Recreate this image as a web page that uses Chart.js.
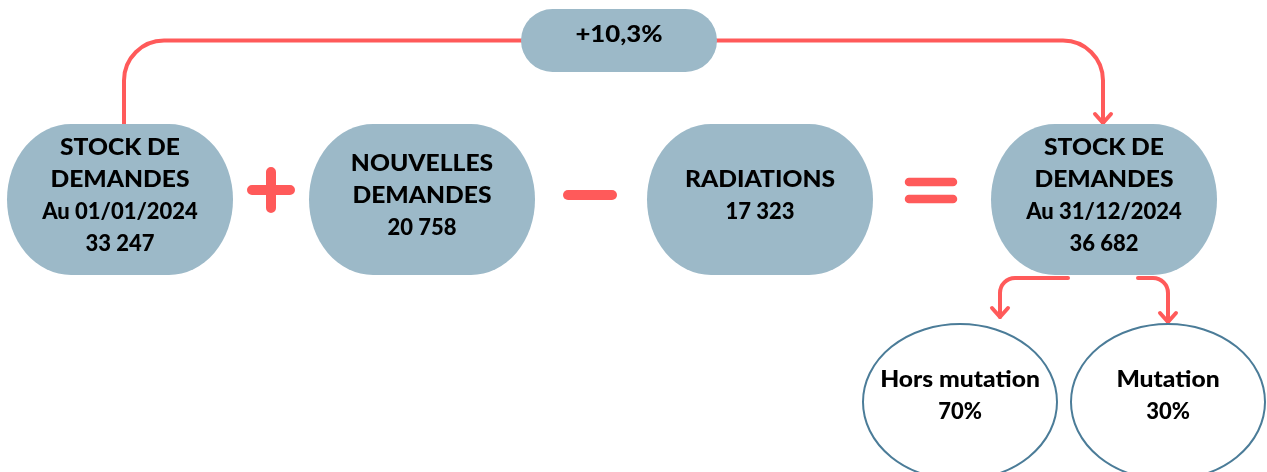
<!DOCTYPE html>
<html><head><meta charset="utf-8">
<script src="https://cdn.jsdelivr.net/npm/chart.js@4.4.1/dist/chart.umd.min.js"></script>
<style>html,body{margin:0;padding:0;background:#fff;}canvas{display:block;}</style>
</head><body>
<canvas id="c" width="1267" height="472"></canvas>
<script>
// ---- data ----
const nodeTitles = [
  ['STOCK DE', 'DEMANDES', 'Au 01/01/2024'],
  ['NOUVELLES', 'DEMANDES'],
  ['RADIATIONS'],
  ['STOCK DE', 'DEMANDES', 'Au 31/12/2024']
];
const nodeValues = [33247, 20758, 17323, 36682];
const operators = ['+', '-', '='];
const changeLabel = '+10,3%';
const splitLabels = ['Hors mutation', 'Mutation'];
const splitShares = [70, 30];

// ---- layout (chart coordinates) ----
const nodePos = [[120, 199.5], [422, 199.5], [760, 199.5], [1104, 199.5]];
const opPos = [[271, 190], [590, 195], [931, 190.5]];
const pillPos = [619, 40.5];
const splitPos = [[960, 402], [1168, 402]];

const RED = '#FF5A5A', BOX = '#9CB9C8', RING = '#4B7C98';
const FONT = 'Lato, "Open Sans", sans-serif';
const STRETCH = 1.12;
const fmt = v => String(v).replace(/\B(?=(\d{3})+(?!\d))/g, ' ');

function stadium(ctx, cx, cy, w, h, rx, ry) {
  const l = cx - w / 2, r = cx + w / 2, t = cy - h / 2, b = cy + h / 2;
  ctx.beginPath();
  ctx.moveTo(l + rx, t);
  ctx.lineTo(r - rx, t);
  ctx.ellipse(r - rx, t + ry, rx, ry, 0, -Math.PI / 2, 0);
  ctx.lineTo(r, b - ry);
  ctx.ellipse(r - rx, b - ry, rx, ry, 0, 0, Math.PI / 2);
  ctx.lineTo(l + rx, b);
  ctx.ellipse(l + rx, b - ry, rx, ry, 0, Math.PI / 2, Math.PI);
  ctx.lineTo(l, t + ry);
  ctx.ellipse(l + rx, t + ry, rx, ry, 0, Math.PI, Math.PI * 1.5);
  ctx.closePath();
}
function arrowHead(ctx, x, y) {
  ctx.beginPath();
  ctx.moveTo(x - 8, y - 9);
  ctx.lineTo(x, y);
  ctx.lineTo(x + 8, y - 9);
  ctx.stroke();
}
function text(ctx, s, x, y, k) {
  const sx = k !== undefined ? k : (/\d/.test(s) ? 1 : STRETCH);
  ctx.save();
  ctx.translate(x, y);
  ctx.scale(sx, 1);
  ctx.fillText(s, 0, 0);
  ctx.restore();
}
function lines(ctx, arr, cx, cy, lh) {
  const start = cy - (arr.length - 1) * lh / 2;
  arr.forEach((s, i) => text(ctx, s, cx, start + i * lh));
}

const flowPlugin = {
  id: 'flow',
  afterDatasetsDraw(chart) {
    const ctx = chart.ctx;
    const pts = i => chart.getDatasetMeta(i).data.map(e => [e.x, e.y]);
    const nodes = pts(0), ops = pts(1), pill = pts(2)[0], splits = pts(3);
    const xs = chart.scales.x, ys = chart.scales.y;
    const px = v => xs.getPixelForValue(v), py = v => ys.getPixelForValue(v);
    ctx.save();
    ctx.lineCap = 'round'; ctx.lineJoin = 'round';
    // top connector
    ctx.strokeStyle = RED; ctx.lineWidth = 4;
    const topY = pill[1], lx = px(124), rxp = px(1103), boxTop = py(124), R = 40;
    ctx.beginPath();
    ctx.moveTo(lx, boxTop);
    ctx.lineTo(lx, topY + R);
    ctx.arcTo(lx, topY, lx + R, topY, R);
    ctx.lineTo(rxp - R, topY);
    ctx.arcTo(rxp, topY, rxp, topY + R, R);
    ctx.lineTo(rxp, boxTop - 1);
    ctx.stroke();
    arrowHead(ctx, rxp, boxTop - 1);
    // bottom connectors
    const by = py(278), r2 = 15;
    ctx.beginPath();
    ctx.moveTo(px(1068), by);
    ctx.lineTo(px(1000) + r2, by);
    ctx.arcTo(px(1000), by, px(1000), by + r2, r2);
    ctx.lineTo(px(1000), py(317));
    ctx.stroke();
    arrowHead(ctx, px(1000), py(317));
    ctx.beginPath();
    ctx.moveTo(px(1138), by);
    ctx.lineTo(px(1168) - r2, by);
    ctx.arcTo(px(1168), by, px(1168), by + r2, r2);
    ctx.lineTo(px(1168), py(322));
    ctx.stroke();
    arrowHead(ctx, px(1168), py(322));

    // pill
    ctx.fillStyle = BOX;
    stadium(ctx, pill[0], pill[1], 196, 63, 31.5, 31.5);
    ctx.fill();
    // nodes
    nodes.forEach(([x, y]) => { stadium(ctx, x, y, 226, 151, 64, 75.5); ctx.fill(); });
    // operators
    ctx.strokeStyle = RED;
    ops.forEach(([x, y], i) => {
      const op = operators[i];
      if (op === '+') {
        ctx.lineWidth = 10;
        ctx.beginPath(); ctx.moveTo(x - 19, y); ctx.lineTo(x + 19, y);
        ctx.moveTo(x, y - 18); ctx.lineTo(x, y + 18); ctx.stroke();
      } else if (op === '-') {
        ctx.lineWidth = 10;
        ctx.beginPath(); ctx.moveTo(x - 22, y); ctx.lineTo(x + 22, y); ctx.stroke();
      } else {
        ctx.lineWidth = 8.5;
        ctx.beginPath(); ctx.moveTo(x - 22, y - 8.5); ctx.lineTo(x + 22, y - 8.5);
        ctx.moveTo(x - 22, y + 8.5); ctx.lineTo(x + 22, y + 8.5); ctx.stroke();
      }
    });
    // split ellipses
    ctx.fillStyle = '#fff'; ctx.strokeStyle = RING; ctx.lineWidth = 2;
    splits.forEach(([x, y]) => {
      ctx.beginPath(); ctx.ellipse(x, y, 97, 78, 0, 0, Math.PI * 2); ctx.fill(); ctx.stroke();
    });

    // texts
    ctx.fillStyle = '#000'; ctx.textAlign = 'center'; ctx.textBaseline = 'middle';
    ctx.font = '900 23px ' + FONT;
    text(ctx, changeLabel, pill[0], pill[1] - 6, STRETCH);
    ctx.font = '900 22px ' + FONT;
    nodes.forEach(([x, y], i) => {
      const arr = nodeTitles[i].concat([fmt(nodeValues[i])]);
      const cy = i === 1 ? y - 4 : y - 3.5;
      lines(ctx, arr, x, cy, 32);
    });
    ctx.font = '900 22px ' + FONT;
    splits.forEach(([x, y], i) => {
      lines(ctx, [splitLabels[i], splitShares[i] + '%'], x, y - 6, 32);
    });
    ctx.restore();
  }
};

new Chart(document.getElementById('c'), {
  type: 'scatter',
  data: {
    datasets: [
      { label: 'nodes', data: nodePos.map(p => ({ x: p[0], y: p[1] })), pointRadius: 0 },
      { label: 'ops', data: opPos.map(p => ({ x: p[0], y: p[1] })), pointRadius: 0 },
      { label: 'change', data: [{ x: pillPos[0], y: pillPos[1] }], pointRadius: 0 },
      { label: 'split', data: splitPos.map(p => ({ x: p[0], y: p[1] })), pointRadius: 0 }
    ]
  },
  options: {
    responsive: false, animation: false, devicePixelRatio: 1,
    layout: { padding: 0 },
    plugins: { legend: { display: false }, tooltip: { enabled: false } },
    events: [],
    scales: {
      x: { type: 'linear', min: 0, max: 1267, display: false },
      y: { type: 'linear', min: 0, max: 472, reverse: true, display: false }
    }
  },
  plugins: [flowPlugin]
});
</script>
</body></html>
